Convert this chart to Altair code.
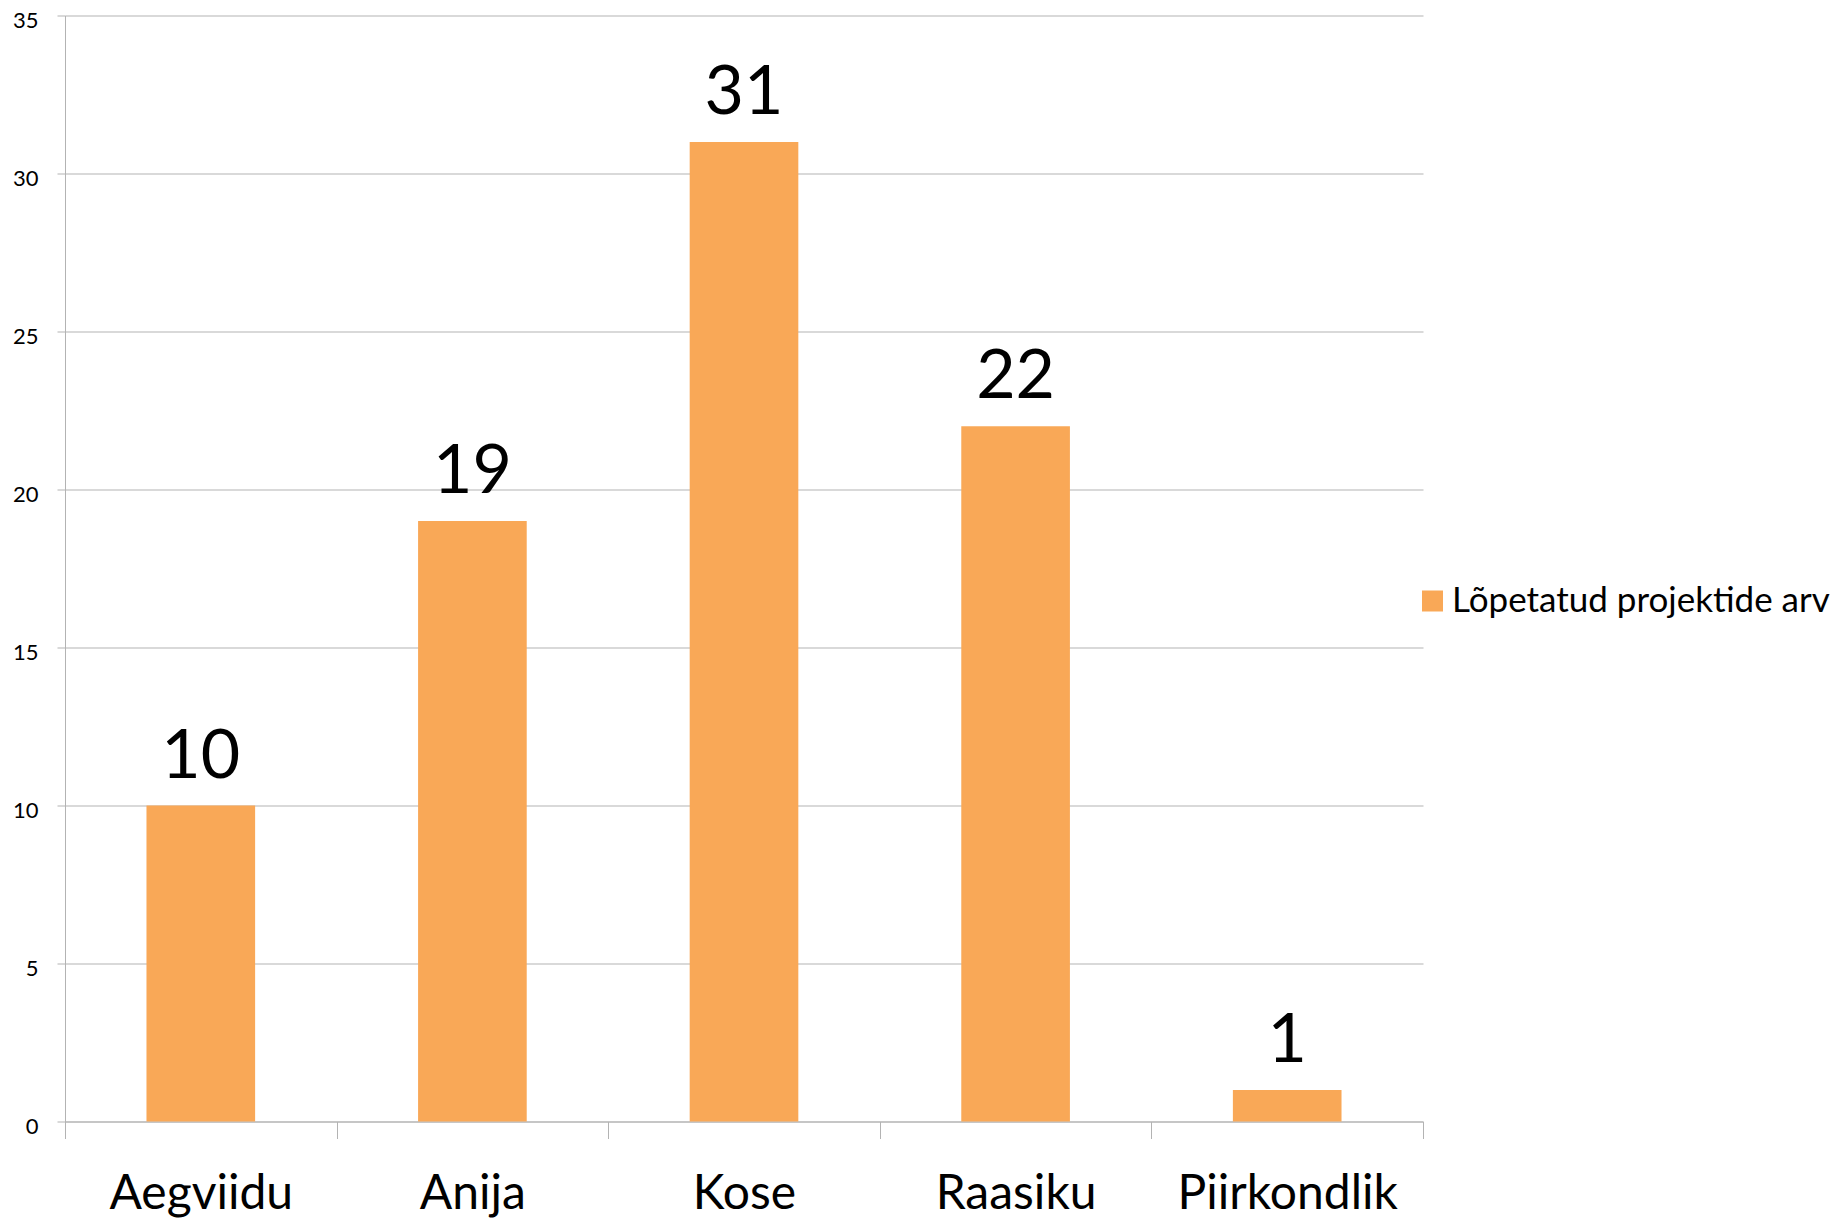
import altair as alt
import pandas as pd

categories = ["Aegviidu", "Anija", "Kose", "Raasiku", "Piirkondlik"]
values = [10, 19, 31, 22, 1]
series_name = "Lõpetatud projektide arv"
y_ticks = [0, 5, 10, 15, 20, 25, 30, 35]

df = pd.DataFrame({
    "category": categories,
    "value": values,
    "series": [series_name] * len(categories),
})

FONT = "Lato"
ORANGE = "#F9A857"
GRAY = "#B3B3B3"

x_enc = alt.X(
    "category:N",
    sort=categories,
    scale=alt.Scale(paddingInner=0, paddingOuter=0),
    axis=alt.Axis(
        title=None,
        labelAngle=0,
        labelFont=FONT,
        labelFontSize=48,
        labelColor="#000000",
        labelPadding=32,
        labelLimit=500,
        tickSize=17,
        tickColor=GRAY,
        domainColor=GRAY,
        tickBand="extent",
        grid=False,
    ),
)
y_enc = alt.Y(
    "value:Q",
    scale=alt.Scale(domain=[0, 35], nice=False),
    axis=alt.Axis(
        title=None,
        values=y_ticks,
        labelFont=FONT,
        labelFontSize=22,
        labelColor="#000000",
        labelPadding=19,
        labelOffset=5,
        tickSize=8,
        tickColor=GRAY,
        domainColor=GRAY,
        gridColor=GRAY,
        grid=True,
    ),
)

bars = alt.Chart(df).mark_bar(width={"band": 0.4}).encode(
    x=x_enc,
    y=y_enc,
    color=alt.Color(
        "series:N",
        scale=alt.Scale(range=[ORANGE]),
        legend=alt.Legend(
            title=None,
            orient="none",
            legendX=1350,
            legendY=568,
            symbolType="square",
            symbolSize=441,
            symbolStrokeWidth=0,
            labelFont=FONT,
            labelFontSize=35,
            labelColor="#000000",
            labelOffset=2,
            labelLimit=600,
            padding=0,
        ),
    ),
)

labels = alt.Chart(df).mark_text(
    baseline="alphabetic", dy=-28, font=FONT, fontSize=68, color="#000000"
).encode(
    x=alt.X("category:N", sort=categories),
    y=alt.Y("value:Q"),
    text=alt.Text("value:Q"),
)

chart = alt.layer(bars, labels).properties(
    width=1358,
    height=1106,
    autosize="none",
    padding={"left": 57, "top": 7.5, "right": 414, "bottom": 96},
).configure_view(stroke=None).configure_axis(domainWidth=1, tickWidth=1, gridWidth=1)

chart.save("out.html", embed_options={"renderer": "svg", "actions": False})
